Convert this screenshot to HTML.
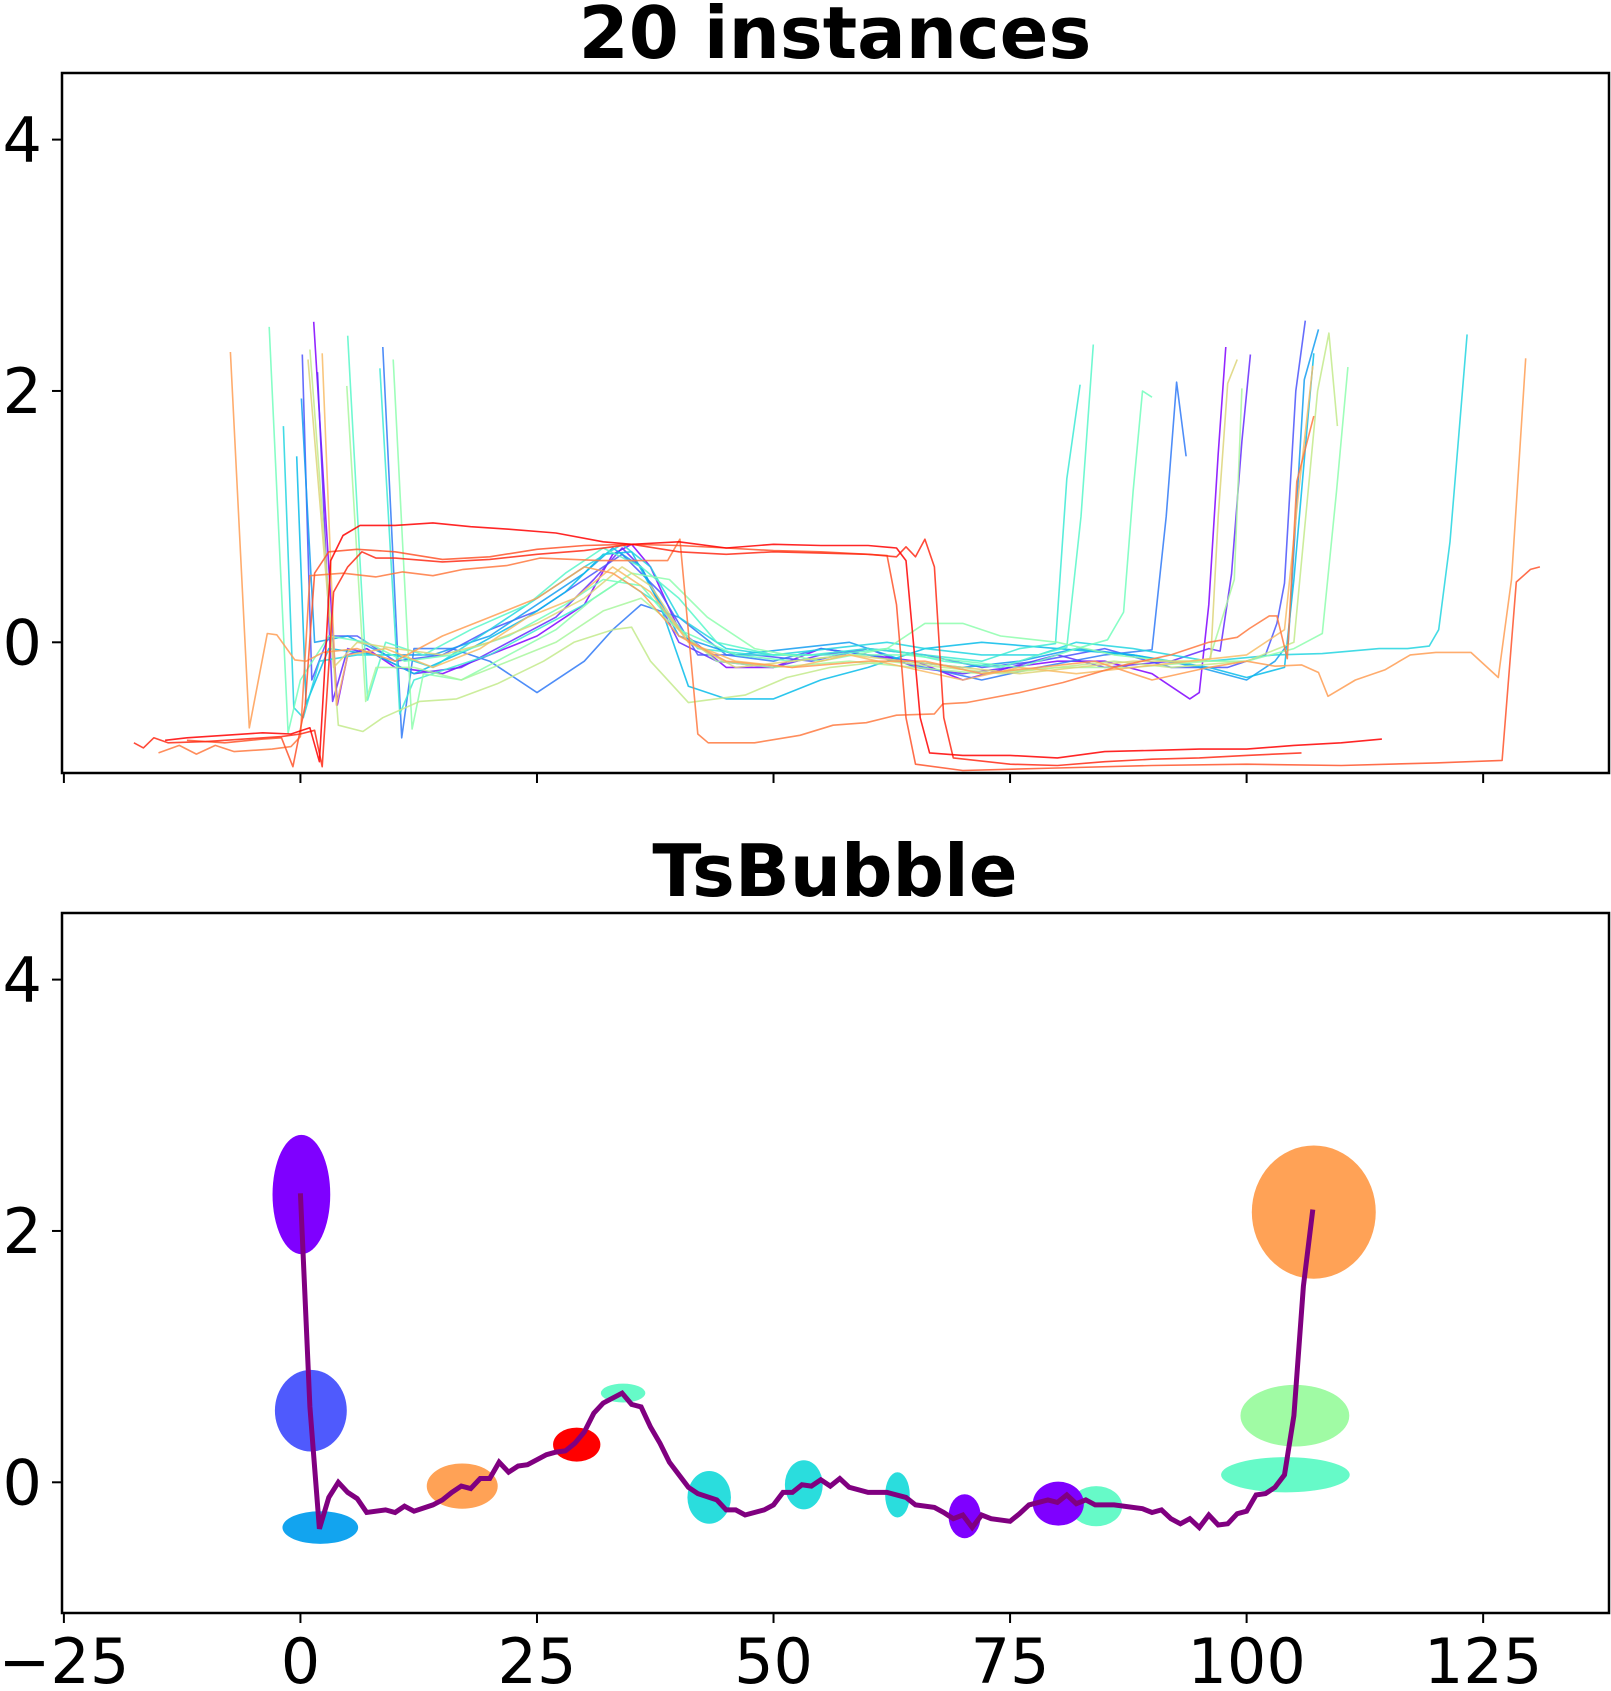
<!DOCTYPE html>
<html><head><meta charset="utf-8"><style>
html,body{margin:0;padding:0;background:#fff;}
svg{display:block;font-family:"DejaVu Sans","Liberation Sans",sans-serif;}
</style></head><body>
<svg id="fig" width="1611" height="1691" viewBox="0 0 1611 1691" xmlns="http://www.w3.org/2000/svg">
<defs>
<clipPath id="clipTop"><rect x="62" y="73" width="1547" height="700"/></clipPath>
<clipPath id="clipBot"><rect x="62" y="913" width="1547" height="700"/></clipPath>
</defs>
<rect width="1611" height="1691" fill="#fff"/>
<text x="835" y="58" text-anchor="middle" font-weight="bold" font-size="72">20 instances</text>
<text x="835" y="896" text-anchor="middle" font-weight="bold" font-size="72">TsBubble</text>
<g id="topLines" clip-path="url(#clipTop)"></g>
<g id="botMarks" clip-path="url(#clipBot)"></g>
<g id="axes"></g>
</svg>
<script>
// ---- data: top panel (20 instances) ----
const inst0=[[1.4,2.55],[3.9,-0.5],[5,-0.1],[7,-0.05],[10,-0.2],[15,-0.25],[20,-0.1],[25,0.05],[30,0.3],[33,0.7],[35,0.78],[37,0.6],[40,0.1],[45,-0.2],[50,-0.2],[55,-0.05],[60,-0.1],[65,-0.15],[70,-0.3],[75,-0.2],[80,-0.15],[85,-0.15],[90,-0.25],[94,-0.45],[95,-0.4],[96,0.3],[97,1.5],[97.8,2.35]];
const inst1=[[1.8,2.15],[3.4,-0.47],[5,-0.05],[8,-0.1],[12,-0.25],[17,-0.2],[22,0],[27,0.2],[31,0.5],[34,0.75],[36,0.6],[40,0],[44,-0.15],[50,-0.2],[55,-0.1],[60,-0.05],[65,-0.2],[70,-0.25],[75,-0.2],[80,-0.1],[85,-0.2],[92,-0.15],[96,-0.05],[97.2,-0.07],[98.4,0.54],[99.5,1.6],[100.4,2.29]];
const inst2=[[0.2,2.29],[1.2,-0.3],[3,0.05],[6,0.05],[10,-0.15],[15,-0.1],[20,0.1],[25,0.25],[30,0.5],[34,0.7],[38,0.4],[42,-0.1],[48,-0.1],[54,-0.15],[60,-0.05],[66,-0.1],[72,-0.2],[78,-0.15],[85,-0.05],[92,-0.2],[98,-0.2],[102,-0.1],[103.2,0.15],[104,0.47],[105.2,2.0],[106.2,2.56]];
const inst3=[[8.7,2.35],[10.7,-0.76],[12,-0.05],[16,-0.05],[20,-0.15],[25,-0.4],[30,-0.15],[33,0.1],[36,0.3],[40,0.2],[45,-0.1],[50,-0.15],[55,-0.05],[60,-0.1],[66,-0.2],[72,-0.3],[78,-0.2],[85,-0.1],[90,-0.06],[91.5,1.0],[92.6,2.07],[93.6,1.48]];
const inst4=[[0.1,1.94],[1.5,0],[5,0.05],[9,-0.1],[14,-0.1],[20,0.05],[25,0.3],[30,0.55],[33,0.75],[36,0.6],[40,0.05],[46,-0.1],[52,-0.05],[58,0],[64,-0.15],[70,-0.2],[76,-0.15],[82,-0.05],[88,-0.1],[95,-0.2],[100,-0.3],[103,-0.15],[104.4,-0.01],[106.1,2.09],[107.6,2.49]];
const inst5=[[-0.4,1.48],[0.6,-0.49],[3,-0.05],[8,-0.1],[12,-0.25],[18,-0.05],[24,0.2],[28,0.4],[32,0.7],[35,0.72],[38,0.3],[41,-0.35],[45,-0.45],[50,-0.45],[55,-0.3],[60,-0.2],[66,-0.05],[72,0],[80,-0.05],[88,-0.1],[96,-0.2],[100,-0.28],[104,-0.2],[105,0.5],[106.5,1.8],[107.1,2.3]];
const inst6=[[-1.8,1.72],[-0.7,-0.52],[0.3,-0.6],[2,-0.15],[6,-0.1],[10,-0.1],[14,-0.2],[20,0.1],[26,0.4],[30,0.6],[34,0.78],[37,0.6],[40,0.2],[45,-0.05],[50,-0.1],[56,-0.05],[62,0],[66,-0.05],[72,-0.1],[78,-0.1],[82,0],[88,-0.05],[96,-0.15],[103,-0.1],[108,-0.09],[114,-0.05],[117,-0.05],[119.3,-0.03],[120.3,0.1],[121.5,0.8],[123.3,2.45]];
const inst7=[[8.4,2.18],[10.5,-0.57],[12,-0.3],[16,-0.2],[20,-0.1],[25,0.1],[30,0.3],[34,0.5],[38,0.3],[42,-0.05],[48,-0.1],[54,-0.1],[60,-0.05],[66,-0.1],[72,-0.15],[76,-0.05],[79.8,-0.01],[81,1.3],[82.4,2.05]];
const inst8=[[5,2.44],[7.1,-0.46],[9,0],[13,-0.1],[18,0.1],[24,0.3],[28,0.55],[32,0.75],[36,0.6],[40,0.35],[44,0],[50,-0.1],[56,-0.1],[62,-0.05],[68,-0.15],[74,-0.2],[78,-0.1],[81,-0.04],[82.5,1.0],[83.8,2.37]];
const inst9=[[-3.3,2.51],[-1.3,-0.72],[0,-0.3],[3,0.05],[7,0],[11,-0.15],[16,-0.1],[22,0.05],[28,0.3],[32,0.5],[36,0.45],[40,0.1],[46,-0.1],[52,-0.15],[58,-0.1],[64,-0.1],[70,-0.15],[76,-0.2],[82,-0.05],[85.3,0.02],[87,0.24],[88,1.2],[89,2.0],[90,1.95]];
const inst10=[[9.8,2.25],[11.8,-0.69],[13,-0.25],[17,-0.3],[22,-0.1],[27,0.1],[31,0.35],[35,0.55],[39,0.5],[43,0.2],[48,-0.05],[55,-0.15],[62,-0.05],[66,0.15],[70,0.15],[74,0.05],[80,0],[86,-0.1],[92,-0.15],[100,-0.15],[105,-0.05],[108,0.07],[109.5,1.2],[110.7,2.19]];
const inst11=[[4.9,2.04],[6.9,-0.47],[8,-0.2],[12,-0.2],[17,-0.3],[22,-0.15],[27,0],[32,0.25],[36,0.35],[40,0.1],[44,-0.15],[50,-0.2],[58,-0.15],[65,-0.2],[72,-0.25],[80,-0.2],[88,-0.2],[96,-0.15],[98.7,0.5],[99.5,2.02]];
const inst12=[[1.0,2.33],[4.0,-0.66],[6.6,-0.71],[8.7,-0.6],[12.6,-0.47],[16.5,-0.45],[20.8,-0.33],[25.7,-0.15],[28.9,0],[33,0.1],[35,0.12],[37,-0.15],[41,-0.48],[47,-0.42],[51.4,-0.28],[56,-0.2],[62,-0.15],[68,-0.2],[74,-0.25],[80,-0.2],[86,-0.15],[92,-0.2],[100,-0.15],[105,0],[107.5,2.0],[108.7,2.46],[109.6,1.72]];
const inst13=[[0.8,2.25],[3.5,-0.2],[6,0],[10,-0.05],[15,-0.1],[20,0],[25,0.15],[30,0.35],[34,0.6],[37,0.45],[41,0],[46,-0.2],[52,-0.15],[58,-0.1],[64,-0.15],[70,-0.2],[76,-0.25],[82,-0.2],[88,-0.15],[94,-0.15],[96.2,-0.13],[97,1.0],[98,2.06],[99,2.25]];
const inst14=[[2.3,2.3],[3.8,-0.5],[5,-0.1],[9,-0.05],[14,-0.2],[19,-0.05],[24,0.2],[29,0.35],[33,0.6],[37,0.4],[41,0],[46,-0.15],[52,-0.2],[58,-0.1],[64,-0.2],[70,-0.3],[76,-0.2],[82,-0.25],[88,-0.2],[94,-0.15],[100,-0.1],[104,0.1],[105.5,1.2],[107,2.2]];
const inst15=[[-7.4,2.31],[-5.4,-0.68],[-3.5,0.07],[-2.5,0.06],[-0.6,-0.14],[0.6,-0.15],[2.4,-0.08],[6,-0.05],[10,-0.15],[15,0.05],[20,0.2],[25,0.35],[30,0.6],[33,0.55],[36,0.4],[40,0.05],[45,-0.15],[52,-0.2],[60,-0.15],[66,-0.15],[72,-0.25],[78,-0.2],[84,-0.15],[90,-0.3],[96,-0.2],[100,-0.15],[103,-0.19],[105.8,-0.18],[107.6,-0.24],[108.6,-0.43],[111.5,-0.3],[114.6,-0.22],[117.3,-0.1],[120,-0.08],[123.7,-0.08],[126.6,-0.28],[128,0.5],[129.5,2.26]];
const inst16=[[-15,-0.88],[-12.8,-0.82],[-11,-0.89],[-9,-0.82],[-7,-0.87],[-3,-0.85],[-1,-0.83],[0,-0.75],[1,0.53],[4.5,0.55],[8,0.52],[10.8,0.56],[14,0.53],[17.2,0.58],[21.8,0.61],[25.3,0.67],[31.7,0.65],[38.8,0.65],[40.1,0.82],[42,-0.73],[43.1,-0.8],[48,-0.8],[52.8,-0.74],[56.3,-0.66],[59.8,-0.64],[63,-0.58],[67,-0.57],[67.9,-0.49],[70.4,-0.48],[76,-0.4],[80.6,-0.32],[86.5,-0.19],[92,-0.1],[96,0],[99,0.04],[100.3,0.11],[102.4,0.21],[103.2,0.21],[104.3,-0.13],[105.3,1.28],[107.1,1.8]];
const inst17=[[-12,-0.78],[-8,-0.8],[-4,-0.77],[-2,-0.76],[-0.8,-0.99],[0.5,-0.5],[1.5,0.55],[3,0.72],[6,0.74],[10,0.72],[15,0.66],[20,0.68],[25,0.74],[30,0.77],[35,0.78],[40,0.77],[45,0.75],[50,0.73],[55,0.72],[60,0.7],[62,0.69],[63,0.3],[64,-0.6],[65,-0.97],[70,-1.02],[80,-1.0],[90,-0.98],[100,-0.97],[110,-0.98],[120,-0.96],[127,-0.94],[128.5,0.48],[130,0.58],[131,0.6]];
const inst18=[[-17.6,-0.8],[-16.6,-0.84],[-15.5,-0.76],[-14,-0.8],[-10,-0.79],[-6,-0.77],[-2,-0.75],[0,-0.73],[1.5,-0.7],[2.3,-0.99],[3.5,0.4],[5,0.6],[6.5,0.72],[8,0.67],[10,0.67],[15,0.64],[20,0.66],[25,0.7],[30,0.73],[35,0.78],[40,0.72],[45,0.7],[50,0.72],[55,0.71],[60,0.7],[63,0.68],[64,0.76],[65,0.68],[66,0.82],[67,0.6],[68,-0.6],[69,-0.92],[75,-0.97],[80,-0.98],[85,-0.95],[90,-0.93],[95,-0.92],[100,-0.9],[105.8,-0.88]];
const inst19=[[-14.3,-0.78],[-12,-0.76],[-8,-0.74],[-4,-0.72],[-1,-0.73],[1,-0.68],[2,-0.95],[2.5,-0.3],[3.2,0.65],[4.5,0.85],[6.3,0.93],[10,0.93],[14,0.95],[18,0.92],[22,0.9],[27,0.87],[32,0.8],[35,0.78],[40,0.8],[45,0.75],[50,0.78],[55,0.77],[60,0.77],[63,0.75],[64,0.65],[65.5,-0.6],[66.5,-0.88],[70,-0.9],[75,-0.9],[80,-0.92],[85,-0.87],[90,-0.86],[95,-0.85],[100,-0.85],[105,-0.82],[110,-0.8],[114.3,-0.77]];
const instances=[inst0,inst1,inst2,inst3,inst4,inst5,inst6,inst7,inst8,inst9,inst10,inst11,inst12,inst13,inst14,inst15,inst16,inst17,inst18,inst19];

// ---- data: bottom panel (TsBubble) ----
const lineX=[0,1,2,3,4,5,6,7,9,10,11,12,14,15,16,17,18,19,20,21,22,23,24,25,26,27,28,29,30,31,32,34,35,36,37,38,39,40,41,42,44,45,46,47,49,50,51,52,53,54,55,56,57,58,60,62,64,65,67,68,69,70,71,72,73,75,76,77,79,80,81,82,83,84,86,89,90,91,92,93,94,95,96,97,98,99,100,101,102,103,104,105,106,107];
const lineY=[2.3,0.6,-0.37,-0.12,0.0,-0.08,-0.13,-0.24,-0.22,-0.24,-0.19,-0.23,-0.18,-0.14,-0.08,-0.03,-0.05,0.03,0.03,0.16,0.08,0.13,0.14,0.18,0.22,0.24,0.25,0.31,0.4,0.55,0.63,0.71,0.62,0.6,0.44,0.31,0.16,0.06,-0.04,-0.09,-0.14,-0.22,-0.22,-0.26,-0.22,-0.18,-0.08,-0.08,-0.02,-0.03,0.02,-0.03,0.03,-0.04,-0.08,-0.08,-0.12,-0.18,-0.2,-0.24,-0.29,-0.26,-0.36,-0.26,-0.29,-0.31,-0.25,-0.18,-0.14,-0.16,-0.1,-0.17,-0.14,-0.18,-0.18,-0.21,-0.24,-0.22,-0.29,-0.33,-0.29,-0.36,-0.26,-0.34,-0.33,-0.25,-0.23,-0.1,-0.09,-0.04,0.06,0.53,1.56,2.17];
const bubbleX=[0.1,1.1,2.1,17.1,29.2,34.1,43.2,53.2,63.1,70.2,84.1,80.1,107.1,105.1,104.1];
const bubbleY=[2.29,0.57,-0.36,-0.03,0.30,0.71,-0.12,-0.02,-0.10,-0.27,-0.19,-0.17,2.15,0.53,0.06];
const bubbleW=[6.1,7.6,8.0,7.5,5.0,4.7,4.6,4.0,2.6,3.4,5.5,5.4,13.1,11.5,13.6];
const bubbleH=[0.95,0.65,0.26,0.36,0.27,0.15,0.42,0.39,0.36,0.35,0.32,0.35,1.06,0.49,0.28];
const bubbleColor=["#7f00ff","#4f5afd","#12a4ef","#ffa256","#ff0000","#66fac8","#2adddd","#2adddd","#2adddd","#7f00ff","#66fac8","#7f00ff","#ffa256","#a0fba4","#66fac8"];
const xTicks=[-25,0,25,50,75,100,125];
const xTickLabels=["\u221225","0","25","50","75","100","125"];
const yTicks=[0,2,4];
const yTickLabels=["0","2","4"];

// ---- axes ----
const XMIN=-25.2, XMAX=138.3, YMIN=-1.04, YMAX=4.53;
const L=62, R=1609, W=R-L, H=700;
const TOP={t:73}, BOT={t:913};
function xs(v){return L+(v-XMIN)/(XMAX-XMIN)*W;}
function ysFor(p){return v=>p.t+H-(v-YMIN)/(YMAX-YMIN)*H;}
const yT=ysFor(TOP), yB=ysFor(BOT);
const NS="http://www.w3.org/2000/svg";
function mk(tag,attrs,parent){const e=document.createElementNS(NS,tag);for(const k in attrs)e.setAttribute(k,attrs[k]);parent.appendChild(e);return e;}
function rainbow(t){const r=Math.min(1,Math.abs(2*t-0.5)),g=Math.sin(Math.PI*t),b=Math.cos(Math.PI*t/2);
 return "rgb("+Math.round(r*255)+","+Math.round(g*255)+","+Math.round(b*255)+")";}

const topG=document.getElementById('topLines');
instances.forEach((s,i)=>{
 const d=s.map((p,j)=>(j?"L":"M")+xs(p[0]).toFixed(1)+","+yT(p[1]).toFixed(1)).join("");
 const e=mk('path',{d:d,fill:"none",stroke:rainbow(i/19),"stroke-width":1.6,"stroke-opacity":0.85,"stroke-linejoin":"round"},topG);
 
 
});

const botG=document.getElementById('botMarks');
bubbleX.forEach((bx,i)=>{
 const e=mk('ellipse',{cx:xs(bx),cy:yB(bubbleY[i]),rx:(xs(bubbleW[i])-xs(0))/2,ry:(yB(0)-yB(bubbleH[i]))/2,fill:bubbleColor[i]},botG);
 
 
});
const ld=lineX.map((x,j)=>(j?"L":"M")+xs(x).toFixed(1)+","+yB(lineY[j]).toFixed(1)).join("");
const pl=mk('path',{d:ld,fill:"none",stroke:"#800080","stroke-width":5,"stroke-linejoin":"miter"},botG);



const ax=document.getElementById('axes');
[[TOP,yT,false],[BOT,yB,true]].forEach(([P,yf,lab],k)=>{
 const fr=mk('rect',{x:L,y:P.t,width:W,height:H,fill:"none",stroke:"#000","stroke-width":2.5},ax);
 
 
 xTicks.forEach((v,i)=>{
  const x=xs(v);
  const t=mk('line',{x1:x,x2:x,y1:P.t+H,y2:P.t+H+10,stroke:"#000","stroke-width":2},ax);
  
  
  if(lab){const tx=mk('text',{x:x,y:1683,"text-anchor":"middle","font-size":62},ax);tx.textContent=xTickLabels[i];
   
   }
 });
 yTicks.forEach((v,i)=>{
  const y=yf(v);
  const t=mk('line',{x1:L-10,x2:L,y1:y,y2:y,stroke:"#000","stroke-width":2},ax);
  
  
  const tx=mk('text',{x:42,y:y+22,"text-anchor":"end","font-size":62},ax);tx.textContent=yTickLabels[i];
  
  
 });
});
</script>
</body></html>
